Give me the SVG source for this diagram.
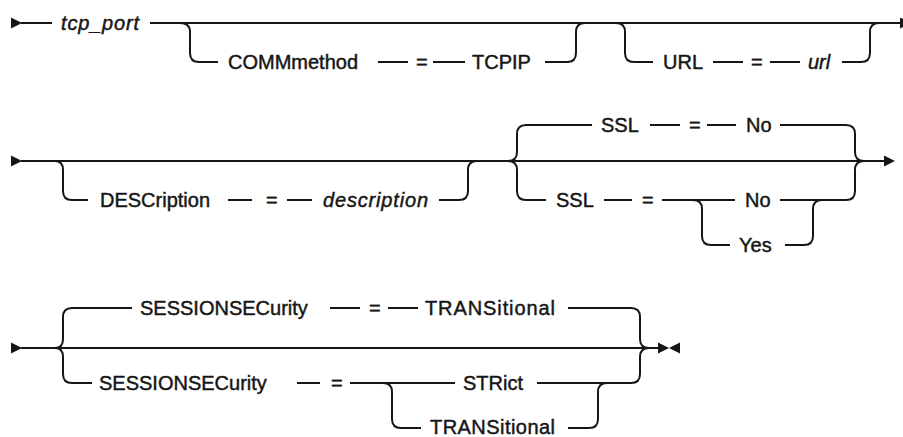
<svg xmlns="http://www.w3.org/2000/svg" width="903" height="437" viewBox="0 0 903 437">
<style>
.ln{fill:none;stroke:#161616;stroke-width:2}
.ar{fill:#161616;stroke:none}
text{font-family:"Liberation Sans",Arial,sans-serif;font-size:20px;fill:#161616;stroke:#161616;stroke-width:0.45}
.i{font-style:italic}
</style>
<defs>
<path id="arR" d="M0,-5.5 L11,0 L0,5.5 Z"/>
<path id="arL" d="M11,-5.5 L0,0 L11,5.5 Z"/>
</defs>
<g id="connectors">
<!-- row 1 -->
<use href="#arR" class="ar" x="11" y="23"/>
<path class="ln" d="M21,23 H52"/>
<path class="ln" d="M150,23 H900"/>
<path class="ln" d="M180,23 Q190,23 190,32 V53 Q190,62 199,62 H218"/>
<path class="ln" d="M378,62 H408"/>
<path class="ln" d="M433,62 H465"/>
<path class="ln" d="M545,62 H567 Q576,62 576,53 V32 Q576,23 585,23"/>
<path class="ln" d="M616,23 Q625,23 625,32 V53 Q625,62 634,62 H653"/>
<path class="ln" d="M713,62 H743"/>
<path class="ln" d="M770,62 H800"/>
<path class="ln" d="M842,62 H861 Q870,62 870,53 V32 Q870,23 879,23"/>
<use href="#arR" class="ar" x="900" y="23"/>
<!-- row 2 -->
<use href="#arR" class="ar" x="11" y="161"/>
<path class="ln" d="M21,161 H884"/>
<path class="ln" d="M55,161 Q63,161 63,170 V191 Q63,200 72,200 H88"/>
<path class="ln" d="M228,200 H252"/>
<path class="ln" d="M287,200 H312"/>
<path class="ln" d="M439,200 H459 Q468,200 468,191 V170 Q468,161 477,161"/>
<path class="ln" d="M508,161 Q517,161 517,152 V134 Q517,125 526,125 H592"/>
<path class="ln" d="M508,161 Q517,161 517,170 V191 Q517,200 526,200 H546"/>
<path class="ln" d="M650,125 H680"/>
<path class="ln" d="M707,125 H736"/>
<path class="ln" d="M780,125 H846 Q855,125 855,134 V152 Q855,161 864,161"/>
<path class="ln" d="M604,200 H632"/>
<path class="ln" d="M662,200 H735"/>
<path class="ln" d="M780,200 H846 Q855,200 855,191 V170 Q855,161 864,161"/>
<path class="ln" d="M693,200 Q702,200 702,209 V236 Q702,245 711,245 H730"/>
<path class="ln" d="M785,245 H804 Q813,245 813,236 V209 Q813,200 822,200"/>
<use href="#arR" class="ar" x="884" y="161"/>
<!-- row 3 -->
<use href="#arR" class="ar" x="11" y="348"/>
<path class="ln" d="M21,348 H658"/>
<path class="ln" d="M55,348 Q63,348 63,339 V317 Q63,308 72,308 H132"/>
<path class="ln" d="M55,348 Q63,348 63,357 V374 Q63,383 72,383 H92"/>
<path class="ln" d="M330,308 H360"/>
<path class="ln" d="M388,308 H418"/>
<path class="ln" d="M568,308 H631 Q640,308 640,317 V339 Q640,348 649,348"/>
<path class="ln" d="M297,383 H320"/>
<path class="ln" d="M350,383 H455"/>
<path class="ln" d="M537,383 H631 Q640,383 640,374 V357 Q640,348 649,348"/>
<path class="ln" d="M383,383 Q392,383 392,392 V419 Q392,428 401,428 H421"/>
<path class="ln" d="M568,428 H589 Q598,428 598,419 V392 Q598,383 607,383"/>
<use href="#arR" class="ar" x="658" y="348"/>
<use href="#arL" class="ar" x="669" y="348"/>
</g>
<g id="n-tcp_port"><text class="i" x="61" y="30" textLength="78">tcp_port</text></g>
<g id="n-commmethod"><text x="228" y="69">COMMmethod</text></g>
<g id="n-eq1"><text x="416" y="69">=</text></g>
<g id="n-tcpip"><text x="472" y="69">TCPIP</text></g>
<g id="n-url-kw"><text x="663" y="69">URL</text></g>
<g id="n-eq2"><text x="751" y="69">=</text></g>
<g id="n-url"><text class="i" x="808" y="69">url</text></g>
<g id="n-description-kw"><text x="100" y="207">DESCription</text></g>
<g id="n-eq3"><text x="266" y="207">=</text></g>
<g id="n-description"><text class="i" x="323" y="207" textLength="105">description</text></g>
<g id="n-ssl-default"><text x="601" y="132">SSL</text></g>
<g id="n-eq4"><text x="689" y="132">=</text></g>
<g id="n-no-default"><text x="746" y="132">No</text></g>
<g id="n-ssl"><text x="556" y="207">SSL</text></g>
<g id="n-eq5"><text x="642" y="207">=</text></g>
<g id="n-no"><text x="745" y="207">No</text></g>
<g id="n-yes"><text x="739" y="252">Yes</text></g>
<g id="n-sessionsec-default"><text x="140" y="315">SESSIONSECurity</text></g>
<g id="n-eq6"><text x="369" y="315">=</text></g>
<g id="n-transitional-default"><text x="425" y="315" textLength="130">TRANSitional</text></g>
<g id="n-sessionsec"><text x="99" y="390">SESSIONSECurity</text></g>
<g id="n-eq7"><text x="331" y="390">=</text></g>
<g id="n-strict"><text x="463" y="390">STRict</text></g>
<g id="n-transitional"><text x="430" y="434" textLength="125">TRANSitional</text></g>
</svg>
